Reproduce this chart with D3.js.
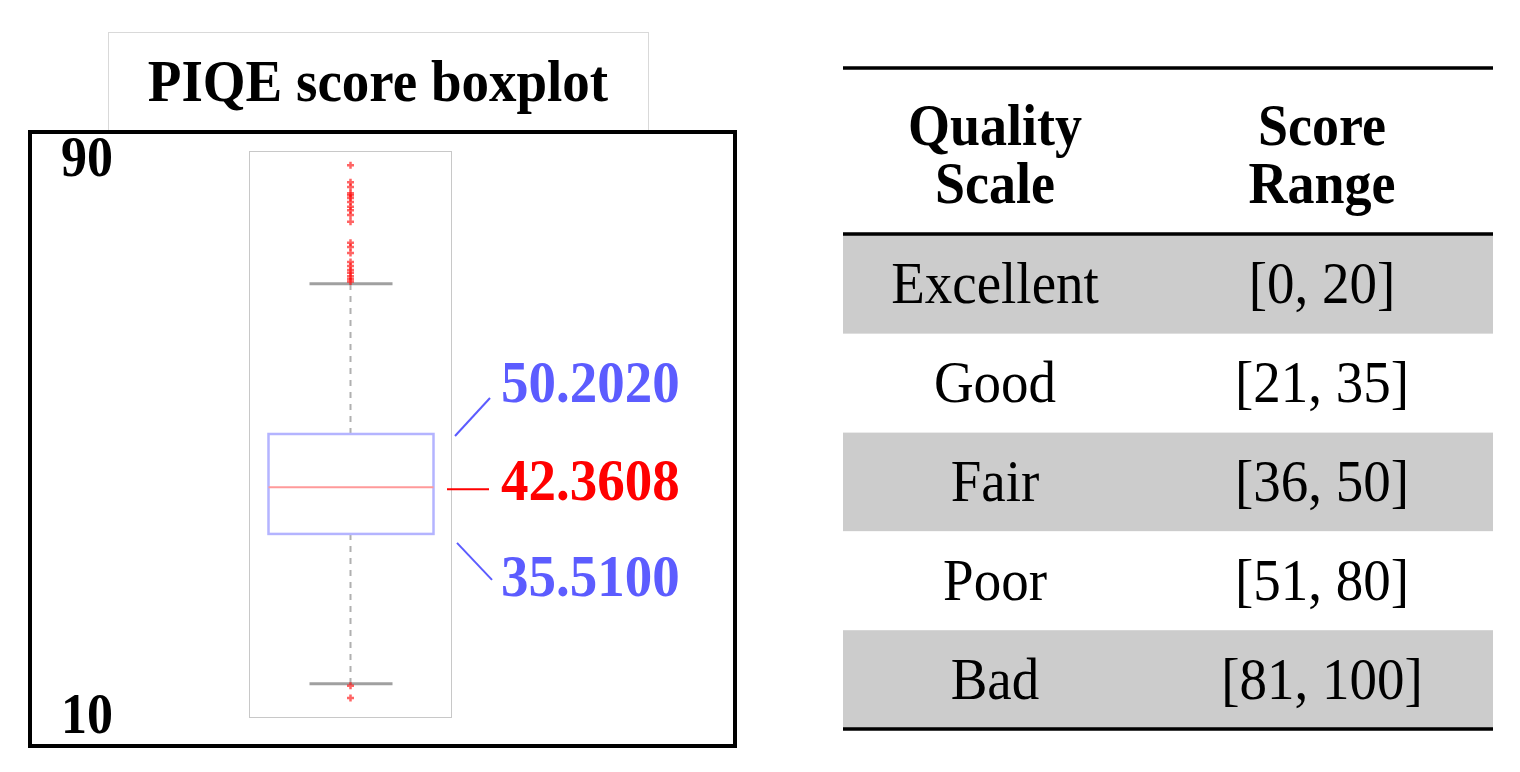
<!DOCTYPE html>
<html>
<head>
<meta charset="utf-8">
<script src="https://cdn.jsdelivr.net/npm/d3@7"></script>
<style>
  body { margin: 0; background: #fff; }
  text { font-family: "Liberation Serif", "Times New Roman", serif; }
</style>
</head>
<body>
<svg width="1520" height="772"></svg>
<script>
// boxplot data (PIQE scores)
const yTicks = [90, 10];
const quartiles = [35.5100, 42.3608, 50.2020]; // q1, median, q3
const whiskers = [13.5, 72.3];
const outliers = [89.7, 87.2, 86.5, 85.6, 85.3, 84.9, 84.3, 83.6, 83.1, 82.4, 81.4,
                  78.3, 77.7, 76.8, 75.5, 74.9, 74.3, 73.9, 73.4, 73.0, 72.6,
                  13.2, 11.4];

// table data
const columns = [['Quality', 'Scale'], ['Score', 'Range']];
const qualityScale = ['Excellent', 'Good', 'Fair', 'Poor', 'Bad'];
const scoreRange = ['[0, 20]', '[21, 35]', '[36, 50]', '[51, 80]', '[81, 100]'];

const svg = d3.select('svg');
svg.append('rect').attr('width', 1520).attr('height', 772).attr('fill', '#fff');

// ---- left: boxplot ----
const y = d3.scaleLinear().domain([8.6, 91.8]).range([717, 151]);
const x = d3.scalePoint().domain(['PIQE']).range([249, 452]).padding(0.5);
const cx = x('PIQE');

// title box
svg.append('rect')
    .attr('x', 108.5).attr('y', 32.5).attr('width', 540).attr('height', 100)
    .attr('fill', 'none').attr('stroke', '#d9d9d9');
svg.append('text')
    .attr('x', 378).attr('y', 101)
    .attr('text-anchor', 'middle')
    .style('font-size', '55px').style('font-weight', 'bold')
    .text('PIQE score boxplot');

// outer frame
svg.append('rect')
    .attr('x', 30).attr('y', 132).attr('width', 705).attr('height', 614)
    .attr('fill', '#fff').attr('stroke', '#000').attr('stroke-width', 4);

// plot area
svg.append('rect')
    .attr('x', 249.5).attr('y', y.range()[1] + 0.5)
    .attr('width', 202).attr('height', y.range()[0] - y.range()[1])
    .attr('fill', 'none').attr('stroke', '#c8c8c8');

// tick labels 90 / 10
svg.selectAll('.tick-label').data(yTicks).join('text')
    .attr('class', 'tick-label')
    .attr('x', 61)
    .attr('y', d => y(d) + (d === 90 ? 13 : 26))
    .style('font-size', '52px').style('font-weight', 'bold')
    .text(d => d);

// whiskers (dashed)
const g = svg.append('g');
g.append('line')
    .attr('x1', cx).attr('x2', cx)
    .attr('y1', y(quartiles[2])).attr('y2', y(whiskers[1]))
    .attr('stroke', '#b0b0b0').attr('stroke-width', 2).attr('stroke-dasharray', '6,6');
g.append('line')
    .attr('x1', cx).attr('x2', cx)
    .attr('y1', y(quartiles[0])).attr('y2', y(whiskers[0]))
    .attr('stroke', '#b0b0b0').attr('stroke-width', 2).attr('stroke-dasharray', '6,6');

// whisker caps
g.selectAll('.cap').data(whiskers).join('line')
    .attr('class', 'cap')
    .attr('x1', cx - 41).attr('x2', cx + 42)
    .attr('y1', d => y(d)).attr('y2', d => y(d))
    .attr('stroke', '#a0a0a0').attr('stroke-width', 3);

// box
g.append('rect')
    .attr('x', cx - 82).attr('width', 165)
    .attr('y', y(quartiles[2])).attr('height', y(quartiles[0]) - y(quartiles[2]))
    .attr('fill', 'none').attr('stroke', '#b4b4ff').attr('stroke-width', 2.5);

// median
g.append('line')
    .attr('x1', cx - 82).attr('x2', cx + 83)
    .attr('y1', y(quartiles[1])).attr('y2', y(quartiles[1]))
    .attr('stroke', '#ff9a9a').attr('stroke-width', 2);

// outliers (+ marks, a bit soft)
g.selectAll('.out').data(outliers).join('path')
    .attr('class', 'out')
    .attr('d', d => `M${cx - 3.5},${y(d)}h7M${cx},${y(d) - 3.5}v7`)
    .attr('stroke', 'red').attr('stroke-width', 2.5).attr('opacity', 0.6);

// annotations
const notes = [
    {v: quartiles[2], color: '#5c5cff', dy: -32, line: [455, 2, 490, -36]},
    {v: quartiles[1], color: '#ff0000', dy: 13, line: [447, 2, 489, 2]},
    {v: quartiles[0], color: '#5c5cff', dy: 62, line: [457, 9, 492, 46]}
];
svg.selectAll('.note-line').data(notes).join('line')
    .attr('class', 'note-line')
    .attr('x1', d => d.line[0]).attr('y1', d => y(d.v) + d.line[1])
    .attr('x2', d => d.line[2]).attr('y2', d => y(d.v) + d.line[3])
    .attr('stroke', d => d.color).attr('stroke-width', 2);
svg.selectAll('.note').data(notes).join('text')
    .attr('class', 'note')
    .attr('x', 501).attr('y', d => y(d.v) + d.dy)
    .attr('fill', d => d.color)
    .style('font-size', '55px').style('font-weight', 'bold')
    .text(d => d.v.toFixed(4));

// ---- right: table ----
const rows = d3.scaleBand().domain(qualityScale).range([235, 729]);
const col = d3.scalePoint().domain([0, 1]).range([995, 1322]);
const tx0 = 843, tx1 = 1493;

const t = svg.append('g');
t.selectAll('.row').data(qualityScale).join('rect')
    .attr('class', 'row')
    .attr('x', tx0).attr('width', tx1 - tx0)
    .attr('y', d => rows(d)).attr('height', rows.bandwidth())
    .attr('fill', (d, i) => i % 2 === 0 ? '#cccccc' : '#fff');

// header
columns.forEach((c, i) => {
    t.append('text')
        .attr('x', col(i)).attr('y', 145)
        .attr('text-anchor', 'middle')
        .style('font-size', '54px').style('font-weight', 'bold')
        .selectAll('tspan').data(c).join('tspan')
        .attr('x', col(i)).attr('dy', (d, k) => k === 0 ? 0 : 54)
        .text(d => d);
});

// cells
t.selectAll('.q').data(qualityScale).join('text')
    .attr('class', 'q')
    .attr('x', col(0)).attr('y', d => rows(d) + rows.bandwidth() / 2 + 19)
    .attr('text-anchor', 'middle').style('font-size', '55px')
    .text(d => d);
t.selectAll('.s').data(scoreRange).join('text')
    .attr('class', 's')
    .attr('x', col(1)).attr('y', (d, i) => rows(qualityScale[i]) + rows.bandwidth() / 2 + 19)
    .attr('text-anchor', 'middle').style('font-size', '55px')
    .text(d => d);

// rules
[68, 234, 729].forEach(ry => {
    t.append('line')
        .attr('x1', tx0).attr('x2', tx1).attr('y1', ry).attr('y2', ry)
        .attr('stroke', '#000').attr('stroke-width', 3.5);
});

// the source figure is a bit stretched vertically: scale text about its baseline
svg.selectAll('text').attr('transform', function() {
    const by = +this.getAttribute('y');
    return `translate(0,${by}) scale(1,1.08) translate(0,${-by})`;
});
</script>
</body>
</html>
